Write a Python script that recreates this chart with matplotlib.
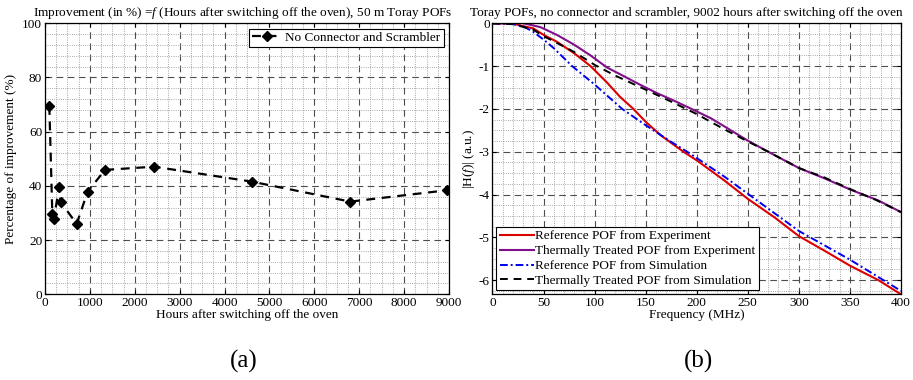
import matplotlib
matplotlib.use('Agg')
import matplotlib.pyplot as plt
from matplotlib.ticker import MultipleLocator

plt.rcParams['font.family'] = ['Liberation Serif', 'DejaVu Serif']
plt.rcParams['mathtext.fontset'] = 'custom'
plt.rcParams['mathtext.rm'] = 'Liberation Serif'
plt.rcParams['mathtext.it'] = 'Liberation Serif:italic'
plt.rcParams['axes.unicode_minus'] = False

# (a) improvement after switching off the oven
hours = [96, 163, 200, 312, 350, 705, 950, 1337, 2430, 4600, 6800, 8960]
improvement = [69.5, 29.6, 27.9, 39.5, 34.0, 26.0, 37.9, 45.9, 47.1, 41.6, 34.2, 38.4]

# (b) frequency responses, 9002 h
f_ref_exp = [0, 20, 40, 50, 63, 80, 96, 112, 125, 138, 150, 165, 187, 200, 227, 250, 276, 300, 325, 350, 378, 400]
h_ref_exp = [0, -0.01, -0.12, -0.27, -0.43, -0.7, -1.0, -1.38, -1.72, -2.0, -2.3, -2.62, -3.0, -3.2, -3.67,
             -4.1, -4.53, -4.97, -5.31, -5.66, -6.0, -6.33]

f_tt_exp = [0, 15, 27, 47, 63, 80, 96, 112, 129, 145, 161, 178, 194, 214, 230, 250, 270, 300, 325, 350, 378, 400]
h_tt_exp = [0, 0.01, 0.02, -0.09, -0.27, -0.5, -0.75, -1.03, -1.24, -1.44, -1.63, -1.81, -1.99, -2.22, -2.45,
            -2.74, -3.0, -3.38, -3.62, -3.88, -4.14, -4.41]

f_ref_sim = [0, 20, 30, 40, 50, 60, 78, 100, 127, 150, 175, 194, 227, 250, 300, 350, 400]
h_ref_sim = [0, -0.02, -0.07, -0.2, -0.38, -0.58, -1.0, -1.43, -2.0, -2.38, -2.77, -3.05, -3.58, -3.98, -4.85,
             -5.52, -6.25]

f_tt_sim = [0, 20, 40, 50, 60, 80, 100, 120, 150, 175, 200, 225, 250, 270, 300, 325, 350, 375, 400]
h_tt_sim = [0, -0.02, -0.15, -0.3, -0.42, -0.67, -0.97, -1.22, -1.55, -1.83, -2.12, -2.45, -2.76, -3.0, -3.38,
            -3.6, -3.87, -4.12, -4.41]

fig = plt.figure(figsize=(9.13, 3.8), dpi=100)
ax1 = fig.add_axes([0.0493, 0.2255, 0.4425, 0.7132])
ax2 = fig.add_axes([0.5394, 0.2255, 0.4474, 0.7132])

fs = 9.5


def style(ax):
    ax.grid(which='major', linestyle=(0, (6, 4)), color='0.3', linewidth=0.8)
    ax.grid(which='minor', linestyle=':', color='0.55', linewidth=0.6)
    ax.set_axisbelow(True)
    ax.tick_params(which='both', direction='in', top=True, right=True, labelsize=9.5)
    ax.tick_params(which='major', length=3, pad=2)
    ax.tick_params(which='minor', length=0)
    for s in ax.spines.values():
        s.set_linewidth(0.9)


ax1.plot(hours, improvement, linestyle='--', color='black', linewidth=1.6,
         marker='D', markersize=5, markerfacecolor='black', dashes=(4, 3),
         label='No Connector and Scrambler')
ax1.set_xlim(0, 9000)
ax1.set_ylim(0, 100)
ax1.xaxis.set_major_locator(MultipleLocator(1000))
ax1.xaxis.set_minor_locator(MultipleLocator(250))
ax1.yaxis.set_major_locator(MultipleLocator(20))
ax1.yaxis.set_minor_locator(MultipleLocator(4))
style(ax1)
ax1.set_title(r'Improvement (in %) =$f$ (Hours after switching off the oven), 50 m Toray POFs',
              fontsize=fs, pad=5.5, x=0.489)
ax1.set_xlabel('Hours after switching off the oven', fontsize=fs, labelpad=0)
ax1.set_ylabel('Percentage of improvement (%)', fontsize=fs, labelpad=4)
leg1 = ax1.legend(loc='upper right', fontsize=fs, fancybox=False, framealpha=1,
                  edgecolor='black', borderpad=0.25, handlelength=2.2, handletextpad=0.3,
                  borderaxespad=0.4)
leg1.get_frame().set_linewidth(0.8)

ax2.plot(f_ref_exp, h_ref_exp, color='#dd0000', linewidth=1.5, label='Reference POF from Experiment')
ax2.plot(f_tt_exp, h_tt_exp, color='#80108a', linewidth=1.5, label='Thermally Treated POF from Experiment')
ax2.plot(f_ref_sim, h_ref_sim, color='#0000ee', linewidth=1.4, linestyle='-.', dashes=(4, 1.5, 1, 1.5),
         label='Reference POF from Simulation')
ax2.plot(f_tt_sim, h_tt_sim, color='black', linewidth=1.4, linestyle='--', dashes=(4, 3),
         label='Thermally Treated POF from Simulation')
ax2.set_xlim(0, 400)
ax2.set_ylim(-6.33, 0)
ax2.xaxis.set_major_locator(MultipleLocator(50))
ax2.xaxis.set_minor_locator(MultipleLocator(10))
ax2.yaxis.set_major_locator(MultipleLocator(1))
ax2.yaxis.set_minor_locator(MultipleLocator(0.25))
style(ax2)
ax2.set_title('Toray POFs, no connector and scrambler, 9002 hours after switching off the oven',
              fontsize=fs, pad=5.5, x=0.474)
ax2.set_xlabel('Frequency (MHz)', fontsize=fs, labelpad=0)
ax2.set_ylabel(r'|H($f$)| (a.u.)', fontsize=fs, labelpad=1)
leg2 = ax2.legend(loc='lower left', fontsize=fs, fancybox=False, framealpha=1,
                  edgecolor='black', borderpad=0.25, handlelength=2.6, labelspacing=0.2,
                  handletextpad=0.1, borderaxespad=0.3)
leg2.get_frame().set_linewidth(0.8)

fig.text(0.267, 0.05, '(a)', fontsize=18, ha='center', va='center')
fig.text(0.765, 0.05, '(b)', fontsize=18, ha='center', va='center')

fig.savefig('out.png', dpi=100)
